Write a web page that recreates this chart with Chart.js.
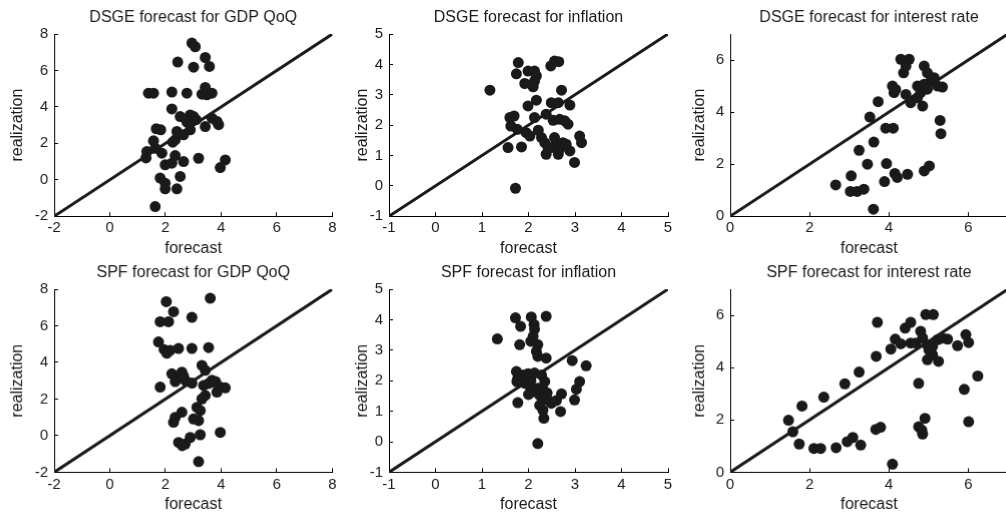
<!DOCTYPE html>
<html>
<head>
<meta charset="utf-8">
<script src="https://cdn.jsdelivr.net/npm/chart.js@4.4.1/dist/chart.umd.min.js"></script>
<style>
    html, body { margin: 0; padding: 0; background: #fff; overflow: hidden; width: 1006px; height: 515px; }
    .panel { position: absolute; }
</style>
</head>
<body>
<div class="panel" id="p1"><canvas id="c1"></canvas></div>
<div class="panel" id="p2"><canvas id="c2"></canvas></div>
<div class="panel" id="p3"><canvas id="c3"></canvas></div>
<div class="panel" id="p4"><canvas id="c4"></canvas></div>
<div class="panel" id="p5"><canvas id="c5"></canvas></div>
<div class="panel" id="p6"><canvas id="c6"></canvas></div>
<script>
// tick values per variable
const gdpTicks = [-2, 0, 2, 4, 6, 8];
const inflTicks = [-1, 0, 1, 2, 3, 4, 5];
const rateTicks = [0, 2, 4, 6];

// DSGE forecast vs realization
const dsgeGdpForecast = [2.95, 3.07, 2.44, 3.43, 3.01, 3.58, 1.39, 1.57, 2.23, 2.77, 3.43, 3.31, 3.49, 3.67, 2.23, 2.53, 2.89, 3.01, 2.77, 3.67, 3.43, 3.91, 1.67, 1.83, 2.41, 2.89, 2.65, 1.57, 2.35, 2.26, 1.33, 1.63, 1.87, 1.30, 2.35, 1.99, 2.23, 2.65, 3.19, 4.15, 3.97, 1.81, 1.99, 2.53, 1.99, 2.41, 1.63, 2.95, 3.10, 3.85];
const dsgeGdpRealized = [7.50, 7.30, 6.46, 6.71, 6.18, 6.22, 4.75, 4.75, 4.81, 4.75, 5.07, 4.70, 4.66, 4.75, 3.89, 3.47, 3.56, 3.47, 3.16, 3.38, 2.92, 3.02, 2.80, 2.74, 2.65, 2.74, 2.47, 2.14, 2.19, 2.06, 1.55, 1.73, 1.46, 1.20, 1.33, 0.82, 0.91, 1.00, 1.18, 1.09, 0.67, 0.09, -0.19, 0.18, -0.50, -0.50, -1.47, 3.20, 3.30, 3.20];

const dsgeInflForecast = [1.17, 1.78, 1.74, 1.99, 2.13, 2.17, 2.13, 2.10, 1.92, 2.56, 2.65, 2.48, 2.17, 1.99, 2.71, 2.49, 2.64, 2.89, 1.60, 1.69, 1.62, 1.76, 2.13, 2.38, 2.53, 2.67, 2.78, 2.85, 1.95, 2.03, 2.21, 2.28, 2.35, 2.42, 2.38, 2.56, 2.60, 2.67, 2.74, 2.81, 2.89, 2.64, 2.99, 3.10, 3.14, 1.56, 1.85, 1.72, 2.49];
const dsgeInflRealized = [3.15, 4.06, 3.69, 3.78, 3.78, 3.62, 3.45, 3.26, 3.37, 4.11, 4.09, 3.95, 2.82, 2.63, 3.15, 2.74, 2.74, 2.66, 2.25, 2.30, 1.97, 1.86, 2.25, 2.36, 2.16, 2.19, 2.14, 2.03, 1.75, 1.64, 1.83, 1.59, 1.42, 1.26, 1.04, 1.59, 1.37, 1.21, 1.42, 1.37, 1.15, 1.04, 0.77, 1.64, 1.42, 1.26, 1.28, -0.08, 1.26];

const dsgeRateForecast = [4.30, 4.51, 4.43, 4.37, 4.89, 4.97, 5.14, 5.06, 4.09, 4.17, 4.13, 4.43, 4.72, 4.80, 4.89, 4.97, 4.80, 4.72, 5.23, 5.35, 4.55, 4.85, 3.73, 3.52, 3.92, 4.11, 3.62, 3.25, 5.29, 5.31, 3.46, 3.94, 4.15, 4.21, 4.47, 4.89, 5.02, 3.05, 3.89, 2.66, 3.03, 3.20, 3.37, 3.61];
const dsgeRateRealized = [6.03, 6.03, 5.77, 5.51, 5.77, 5.51, 5.32, 5.19, 5.00, 4.87, 4.75, 4.68, 5.00, 4.94, 5.07, 4.88, 4.75, 4.55, 5.00, 4.96, 4.36, 4.23, 4.40, 3.81, 3.38, 3.38, 2.85, 2.53, 3.68, 3.17, 2.00, 2.02, 1.64, 1.49, 1.61, 1.74, 1.93, 1.55, 1.33, 1.20, 0.95, 0.95, 1.04, 0.27];

// SPF forecast vs realization
const spfGdpForecast = [3.61, 2.03, 2.29, 1.81, 2.11, 2.95, 1.75, 1.95, 2.17, 2.47, 2.95, 3.55, 3.31, 3.43, 2.23, 2.59, 2.41, 2.71, 2.95, 1.81, 3.37, 3.73, 3.97, 4.15, 3.85, 3.67, 3.43, 3.31, 3.13, 3.25, 2.59, 2.35, 2.29, 3.01, 3.19, 3.97, 3.25, 2.47, 2.71, 2.89, 3.19, 2.35, 2.65, 3.55, 3.80, 2.05, 2.60];
const spfGdpRealized = [7.50, 7.32, 6.77, 6.22, 6.22, 6.46, 5.12, 4.70, 4.66, 4.76, 4.76, 4.81, 3.84, 3.57, 3.38, 3.47, 3.11, 3.02, 2.87, 2.65, 2.74, 2.93, 2.65, 2.61, 2.38, 3.02, 2.19, 2.01, 1.55, 1.37, 1.28, 1.00, 0.73, 0.91, 0.82, 0.18, 0.05, -0.37, -0.46, -0.10, -1.42, 2.95, 3.25, 2.85, 2.95, 4.50, -0.55];

const spfInflForecast = [1.33, 1.72, 1.83, 2.06, 2.12, 2.13, 2.10, 2.05, 2.38, 1.81, 2.20, 2.17, 2.20, 2.38, 2.94, 3.24, 1.74, 1.77, 1.88, 1.99, 2.13, 2.28, 2.35, 1.92, 2.03, 2.10, 2.20, 2.24, 2.31, 2.42, 2.49, 2.71, 3.10, 3.03, 2.99, 1.77, 2.24, 2.31, 2.69, 2.33, 2.20, 1.75, 2.00, 2.30, 2.40, 2.05, 2.60];
const spfInflRealized = [3.37, 4.06, 3.78, 4.09, 3.84, 3.69, 3.45, 3.29, 4.11, 3.18, 3.18, 2.96, 2.80, 2.74, 2.66, 2.49, 2.30, 2.08, 2.19, 2.23, 2.25, 2.19, 1.97, 1.92, 1.81, 1.64, 1.75, 1.53, 1.42, 1.37, 1.26, 1.57, 1.97, 1.72, 1.37, 1.28, 1.20, 1.04, 0.99, 0.77, -0.06, 1.97, 1.55, 1.75, 1.60, 2.00, 1.35];

const spfRateForecast = [1.47, 1.58, 1.74, 1.81, 2.11, 2.28, 2.36, 2.67, 2.89, 2.95, 3.09, 3.29, 3.25, 3.67, 3.79, 3.68, 3.71, 4.05, 4.16, 4.30, 4.41, 4.55, 4.09, 4.55, 4.68, 4.80, 4.85, 4.93, 5.12, 4.75, 4.91, 4.75, 4.83, 4.85, 4.97, 5.10, 5.23, 5.35, 5.48, 4.97, 5.10, 5.25, 5.01, 5.73, 5.94, 6.01, 6.24, 5.90, 6.01];
const spfRateRealized = [1.99, 1.55, 1.08, 2.53, 0.91, 0.91, 2.87, 0.94, 3.38, 1.17, 1.33, 1.04, 3.83, 1.64, 1.72, 4.43, 5.73, 4.71, 5.09, 4.91, 5.51, 5.73, 0.31, 4.94, 4.94, 5.39, 5.13, 6.03, 6.03, 3.40, 2.06, 1.74, 1.61, 1.46, 4.87, 4.81, 5.07, 5.13, 5.09, 4.30, 4.49, 4.24, 4.68, 4.84, 5.26, 4.96, 3.68, 3.17, 1.93];

const FONT = "'Liberation Sans', Arial, Helvetica, sans-serif";
const INK = '#1a1a1a';
const Y_AXIS_W = 58;
const X_AXIS_H = 44;
const TITLE_H = 34;
const RIGHT_PAD = 14;

// plot rectangles: columns and rows in page pixels
const cols = [[54.3, 331.7], [389.3, 668.3], [730, 1006.9]];
const rows = [[34.3, 216.5], [289.3, 471.7]];

function makePanel(n, col, row, title, xs, ys, lo, hi, ticks, yTitlePad) {
    const left = cols[col][0], right = cols[col][1];
    const top = rows[row][0], bottom = rows[row][1];
    const box = document.getElementById('p' + n);
    box.style.left = (left - Y_AXIS_W) + 'px';
    box.style.top = (top - TITLE_H) + 'px';
    box.style.width = (right - left + Y_AXIS_W + RIGHT_PAD) + 'px';
    box.style.height = (bottom - top + TITLE_H + X_AXIS_H) + 'px';

    const points = xs.map((x, i) => ({ x: x, y: ys[i] }));
    const tickFn = function (scale) {
        scale.ticks = ticks.map(v => ({ value: v }));
    };
    const axis = function (label, isX) {
        return {
            type: 'linear',
            min: lo,
            max: hi,
            afterBuildTicks: tickFn,
            afterFit: function (scale) {
                if (isX) scale.height = X_AXIS_H; else scale.width = Y_AXIS_W;
            },
            border: { display: true, color: '#000', width: 1 },
            grid: { drawOnChartArea: false, drawTicks: true, tickLength: -4, color: '#000' },
            ticks: {
                color: INK,
                font: { family: FONT, size: 15 },
                padding: isX ? 7 : 10,
                maxRotation: 0,
                autoSkip: false
            },
            title: {
                display: true,
                text: label,
                color: INK,
                font: { family: FONT, size: 16 },
                padding: isX ? { top: 0, bottom: 2 } : { top: yTitlePad, bottom: 0 }
            }
        };
    };

    new Chart(document.getElementById('c' + n).getContext('2d'), {
        data: {
            datasets: [{
                type: 'scatter',
                data: points,
                pointRadius: 5.5,
                pointHoverRadius: 5.5,
                backgroundColor: INK,
                borderWidth: 0,
                order: 0
            }, {
                type: 'line',
                data: [{ x: lo, y: lo }, { x: hi, y: hi }],
                borderColor: INK,
                borderWidth: 3,
                pointRadius: 0,
                order: 1
            }]
        },
        options: {
            responsive: true,
            maintainAspectRatio: false,
            animation: false,
            layout: { padding: { left: 0, top: 0, right: RIGHT_PAD, bottom: 0 } },
            plugins: {
                legend: { display: false },
                tooltip: { enabled: false },
                title: {
                    display: true,
                    text: title,
                    color: INK,
                    fullSize: false,
                    font: { family: FONT, size: 16, weight: 'normal' },
                    padding: { top: 8, bottom: TITLE_H - 8 - 19.2 }
                }
            },
            scales: {
                x: axis('forecast', true),
                y: axis('realization', false)
            }
        }
    });
}

makePanel(1, 0, 0, 'DSGE forecast for GDP QoQ', dsgeGdpForecast, dsgeGdpRealized, -2, 8, gdpTicks, 12);
makePanel(2, 1, 0, 'DSGE forecast for inflation', dsgeInflForecast, dsgeInflRealized, -1, 5, inflTicks, 22);
makePanel(3, 2, 0, 'DSGE forecast for interest rate', dsgeRateForecast, dsgeRateRealized, 0, 7, rateTicks, 18);
makePanel(4, 0, 1, 'SPF forecast for GDP QoQ', spfGdpForecast, spfGdpRealized, -2, 8, gdpTicks, 12);
makePanel(5, 1, 1, 'SPF forecast for inflation', spfInflForecast, spfInflRealized, -1, 5, inflTicks, 22);
makePanel(6, 2, 1, 'SPF forecast for interest rate', spfRateForecast, spfRateRealized, 0, 7, rateTicks, 18);
</script>
</body>
</html>
